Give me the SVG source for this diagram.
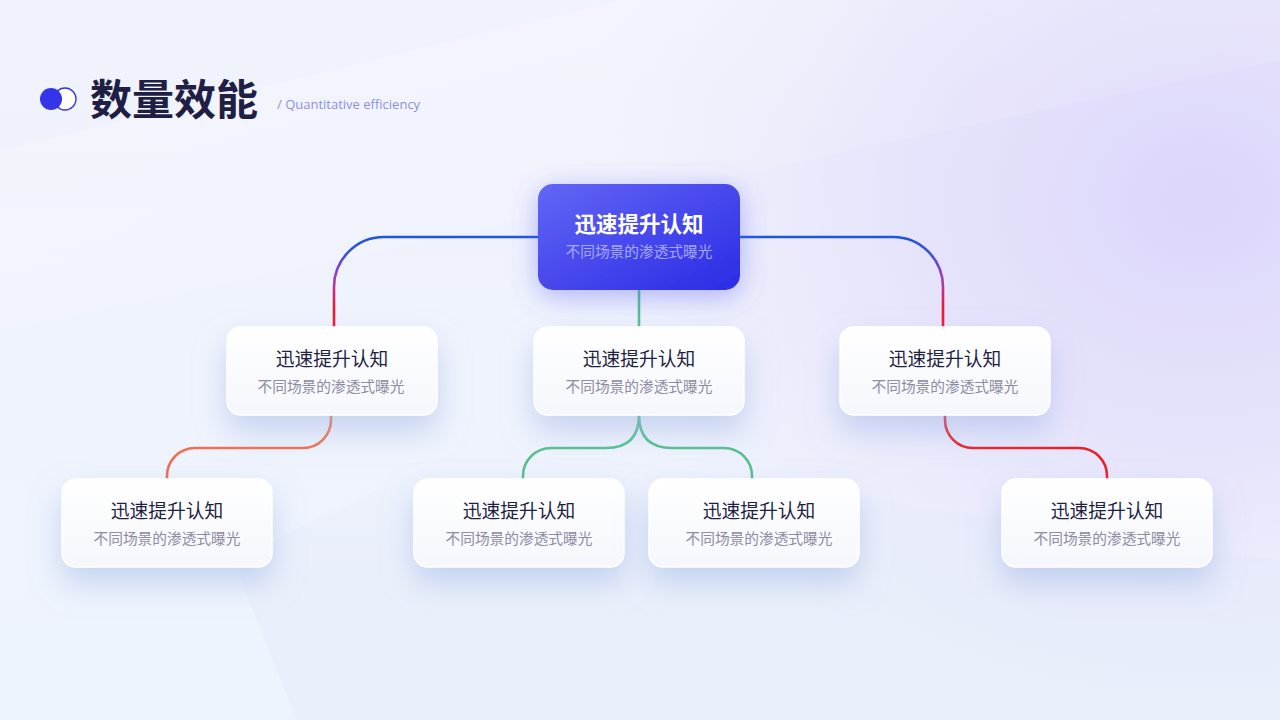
<svg xmlns="http://www.w3.org/2000/svg" width="1280" height="720" viewBox="0 0 1280 720">
<defs>
<linearGradient id="bg" x1="0" y1="0" x2="0" y2="1">
<stop offset="0" stop-color="#f0f2fc"/>
<stop offset="1" stop-color="#eef4fd"/>
</linearGradient>
<radialGradient id="lav" gradientUnits="userSpaceOnUse" cx="1200" cy="200" r="620" gradientTransform="translate(1200 200) scale(1 0.85) translate(-1200 -200)">
<stop offset="0" stop-color="#dcd6fb"/>
<stop offset="0.45" stop-color="#e2defb" stop-opacity="0.75"/>
<stop offset="1" stop-color="#e8e6fb" stop-opacity="0"/>
</radialGradient>
<linearGradient id="beam" x1="0" y1="0" x2="1" y2="1">
<stop offset="0" stop-color="#ffffff" stop-opacity="0.7"/>
<stop offset="1" stop-color="#ffffff" stop-opacity="0"/>
</linearGradient>
<linearGradient id="wedge" x1="0" y1="0" x2="0" y2="1">
<stop offset="0" stop-color="#dde4f6" stop-opacity="0"/>
<stop offset="0.4" stop-color="#dde4f6" stop-opacity="0.25"/>
<stop offset="1" stop-color="#dde4f6" stop-opacity="0.3"/>
</linearGradient>
<linearGradient id="rootFill" x1="0" y1="0" x2="1" y2="1">
<stop offset="0" stop-color="#6266f5"/>
<stop offset="1" stop-color="#2b2be5"/>
</linearGradient>
<linearGradient id="cardFill" x1="0" y1="0" x2="0" y2="1">
<stop offset="0" stop-color="#ffffff"/>
<stop offset="1" stop-color="#f5f7fd"/>
</linearGradient>
<linearGradient id="gL" gradientUnits="userSpaceOnUse" x1="0" y1="237" x2="0" y2="327">
<stop offset="0" stop-color="#1b55e0"/>
<stop offset="0.12" stop-color="#2a52e0"/>
<stop offset="0.45" stop-color="#a03ec0"/>
<stop offset="0.8" stop-color="#f01830"/>
<stop offset="1" stop-color="#f01830"/>
</linearGradient>
<linearGradient id="gO" gradientUnits="userSpaceOnUse" x1="0" y1="415" x2="0" y2="479">
<stop offset="0" stop-color="#f2744c"/>
<stop offset="1" stop-color="#ee6a50"/>
</linearGradient>
<filter id="sh" x="-30%" y="-30%" width="160%" height="200%">
<feDropShadow dx="0" dy="16" stdDeviation="15" flood-color="#9fb4e6" flood-opacity="0.5"/>
</filter>
<filter id="shRoot" x="-40%" y="-40%" width="180%" height="190%">
<feDropShadow dx="0" dy="6" stdDeviation="14" flood-color="#5b5ff5" flood-opacity="0.45"/>
</filter>
<style>
.t{font-family:"Noto Sans CJK SC","Noto Sans",sans-serif;text-anchor:middle}
.h{font-size:18.8px;font-weight:400;fill:#1f1f42}
.s{font-size:14.7px;fill:#8c8ca2}
.hr{font-size:21.5px;font-weight:700;fill:#ffffff}
.sr{font-size:14.7px;fill:#a7a9ff}
.card{fill:url(#cardFill);stroke:#ffffff;stroke-width:1.5;filter:url(#sh)}
.ln{fill:none;stroke-width:2.6;stroke-linecap:round}
</style>
</defs>
<rect width="1280" height="720" fill="url(#bg)"/>
<rect width="1280" height="720" fill="url(#lav)"/>
<polygon points="0,150 620,0 1280,0 1280,60 0,330" fill="url(#beam)" opacity="0.35"/>
<polygon points="233,560 480,440 1280,560 1280,720 297,720" fill="url(#wedge)"/>

<g id="header">
<circle cx="65" cy="99" r="11" fill="#ffffff" stroke="#3434ea" stroke-width="1.3"/>
<circle cx="51" cy="99" r="11" fill="#3434ea"/>
<text x="90" y="115" font-family="Noto Sans CJK SC, sans-serif" font-size="42" font-weight="700" fill="#1f1f45">数量效能</text>
<text x="277" y="109" font-family="Open Sans, Noto Sans, sans-serif" font-size="13" fill="#8d8ee6">/ Quantitative efficiency</text>
</g>

<g id="connectors">
<path class="ln" d="M538,237 H384 A50,50 0 0 0 334,287 V327" stroke="url(#gL)"/>
<path class="ln" d="M740,237 H893 A50,50 0 0 1 943,287 V327" stroke="url(#gL)"/>
<path class="ln" d="M639,290 V327" stroke="#55c08e"/>
<path class="ln" d="M331,415 V420 A28,28 0 0 1 303,448 H195 A28,28 0 0 0 167,476 V479" stroke="url(#gO)"/>
<path class="ln" d="M639,415 Q639,448 606,448 H551 A28,28 0 0 0 523,476 V479" stroke="#55c08e"/>
<path class="ln" d="M639,415 Q639,448 672,448 H724 A28,28 0 0 1 752,476 V479" stroke="#55c08e"/>
<path class="ln" d="M945,415 V420 A28,28 0 0 0 973,448 H1079 A28,28 0 0 1 1107,476 V479" stroke="#ea2028"/>
</g>

<g id="root">
<rect x="538" y="184" width="202" height="106" rx="15" fill="url(#rootFill)" filter="url(#shRoot)"/>
<text class="t hr" x="639" y="232">迅速提升认知</text>
<text class="t sr" x="639" y="257">不同场景的渗透式曝光</text>
</g>

<g id="n2a">
<rect class="card" x="227" y="327" width="210" height="88" rx="14"/>
<text class="t h" x="332" y="366">迅速提升认知</text>
<text class="t s" x="331" y="392">不同场景的渗透式曝光</text>
</g>
<g id="n2b">
<rect class="card" x="534" y="327" width="210" height="88" rx="14"/>
<text class="t h" x="639" y="366">迅速提升认知</text>
<text class="t s" x="639" y="392">不同场景的渗透式曝光</text>
</g>
<g id="n2c">
<rect class="card" x="840" y="327" width="210" height="88" rx="14"/>
<text class="t h" x="945" y="366">迅速提升认知</text>
<text class="t s" x="945" y="392">不同场景的渗透式曝光</text>
</g>

<g id="n3a">
<rect class="card" x="62" y="479" width="210" height="88" rx="14"/>
<text class="t h" x="167" y="518">迅速提升认知</text>
<text class="t s" x="167" y="544">不同场景的渗透式曝光</text>
</g>
<g id="n3b">
<rect class="card" x="414" y="479" width="210" height="88" rx="14"/>
<text class="t h" x="519" y="518">迅速提升认知</text>
<text class="t s" x="519" y="544">不同场景的渗透式曝光</text>
</g>
<g id="n3c">
<rect class="card" x="649" y="479" width="210" height="88" rx="14"/>
<text class="t h" x="759" y="518">迅速提升认知</text>
<text class="t s" x="759" y="544">不同场景的渗透式曝光</text>
</g>
<g id="n3d">
<rect class="card" x="1002" y="479" width="210" height="88" rx="14"/>
<text class="t h" x="1107" y="518">迅速提升认知</text>
<text class="t s" x="1107" y="544">不同场景的渗透式曝光</text>
</g>
</svg>
